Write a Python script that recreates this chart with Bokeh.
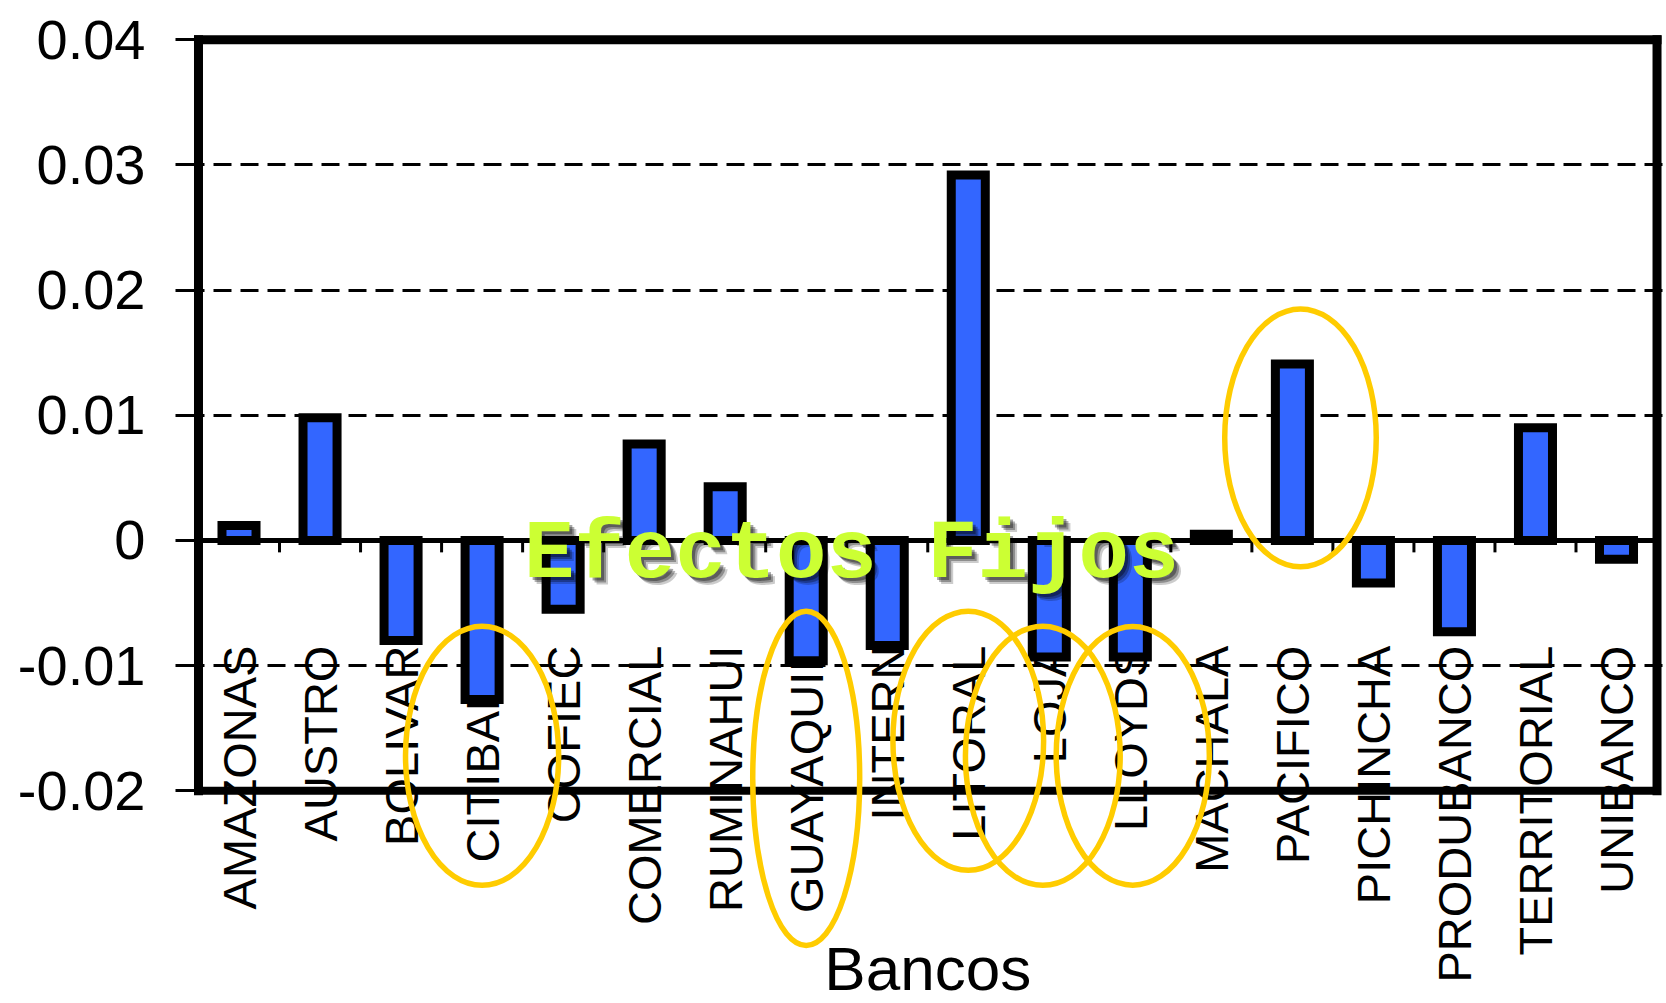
import math
from bokeh.plotting import figure
from bokeh.models import Range1d, FixedTicker
from bokeh.core.properties import value
from bokeh.embed import file_html
from bokeh.resources import INLINE

# ---------------- data ----------------
banks = ["AMAZONAS", "AUSTRO", "BOLIVAR", "CITIBANK", "COFIEC", "COMERCIAL",
         "RUMINAHUI", "GUAYAQUIL", "INTERN", "LITORAL", "LOJA", "LLOYDS",
         "MACHALA", "PACIFICO", "PICHINCHA", "PRODUBANCO", "TERRITORIAL", "UNIBANCO"]
effects = [0.0012, 0.0098, -0.0080, -0.0127, -0.0055, 0.0077,
           0.0043, -0.0096, -0.0084, 0.0292, -0.0093, -0.0093,
           0.0005, 0.0141, -0.0034, -0.0073, 0.0090, -0.0015]
y_ticks = [-0.02, -0.01, 0.0, 0.01, 0.02, 0.03, 0.04]
y_tick_labels = ["-0.02", "-0.01", "0", "0.01", "0.02", "0.03", "0.04"]
grid_values = [-0.01, 0.01, 0.02, 0.03]

highlighted = ["CITIBANK", "GUAYAQUIL", "LITORAL", "LOJA", "LLOYDS", "PACIFICO"]
highlight_dx = [0.0, 0.0, 0.0, -0.08, 0.03, 0.1]
highlight_y = [-0.0172, -0.0190, -0.0160, -0.0172, -0.0172, 0.0082]
highlight_w = [1.89, 1.32, 1.86, 1.91, 1.89, 1.87]
highlight_h = [0.0207, 0.0267, 0.0207, 0.0207, 0.0207, 0.0206]

x_title = "Bancos"
overlay_title = "Efectos Fijos"

# ---------------- figure ----------------
n = len(banks)
centers = [i + 0.5 for i in range(n)]
ymin, ymax = y_ticks[0], y_ticks[-1]

p = figure(width=1666, height=1003,
           x_range=Range1d(-0.148, n + 0.117),
           y_range=Range1d(-0.03699, 0.0409),
           output_backend="svg", toolbar_location=None,
           x_axis_location=None,
           min_border_left=186, min_border_right=0,
           min_border_top=28, min_border_bottom=0)
p.outline_line_color = None
p.background_fill_color = "white"

for g in p.xgrid:
    g.visible = False
p.ygrid.ticker = FixedTicker(ticks=grid_values)
p.ygrid.grid_line_color = "black"
p.ygrid.grid_line_width = 3
p.ygrid.grid_line_dash = "18 9"

ax = p.yaxis[0]
ax.ticker = FixedTicker(ticks=y_ticks)
ax.major_label_overrides = dict(zip(y_ticks, y_tick_labels))
ax.axis_line_color = None
ax.major_tick_out = 11
ax.major_tick_in = 12
ax.major_tick_line_width = 3
ax.major_tick_line_color = "black"
ax.minor_tick_line_color = None
ax.major_label_standoff = 30
ax.major_label_text_font = "Liberation Sans"
ax.major_label_text_font_size = "56px"
ax.major_label_text_color = "black"

# category labels (rotated, ending near -0.0084)
p.text(x=centers, y=[-0.0084] * n, text=banks, angle=math.pi / 2,
       text_align="right", text_baseline="middle",
       text_font=value("Liberation Sans"), text_font_size="47px",
       text_color="black")

# bars
p.vbar(x=centers, top=effects, bottom=0, width=0.42,
       fill_color="#3366FF", line_color="black", line_width=9,
       line_join="miter")

# zero line and its category ticks
p.segment(x0=[0], y0=[0], x1=[n], y1=[0], line_color="black", line_width=5)
bounds = list(range(1, n))
p.segment(x0=bounds, y0=[0] * len(bounds), x1=bounds, y1=[-0.00095] * len(bounds),
          line_color="black", line_width=3)

# frame
p.segment(x0=[0, n, 0], y0=[ymax, ymin, ymin], x1=[n, n, 0], y1=[ymax, ymax, ymax],
          line_color="black", line_width=9, line_cap="square")
p.segment(x0=[0], y0=[ymin], x1=[n], y1=[ymin], line_color="black", line_width=8,
          line_cap="square")

# highlight ellipses
ex = [banks.index(b) + 0.5 + d for b, d in zip(highlighted, highlight_dx)]
p.ellipse(x=ex, y=highlight_y, width=highlight_w, height=highlight_h,
          fill_color=None, line_color="#FFCC00", line_width=5.5)

# overlay title with a soft shadow
ty = -0.0011
for off, a in [(3, 0.35), (5, 0.3), (7, 0.2)]:
    p.text(x=[8.06], y=[ty], text=[overlay_title], text_align="center",
           text_baseline="middle", text_font=value("Liberation Mono"),
           text_font_style="bold", text_font_size="84px",
           text_color="black", text_alpha=a, x_offset=off, y_offset=off)
p.text(x=[8.06], y=[ty], text=[overlay_title], text_align="center",
       text_baseline="middle", text_font=value("Liberation Mono"),
       text_font_style="bold", text_font_size="84px", text_color="#CCFF33")

# x title
p.text(x=[n / 2], y=[-0.0342], text=[x_title], text_align="center",
       text_baseline="middle", text_font=value("Liberation Sans"),
       text_font_size="62px", text_color="black")

open("out.html", "w").write(file_html(p, INLINE))
